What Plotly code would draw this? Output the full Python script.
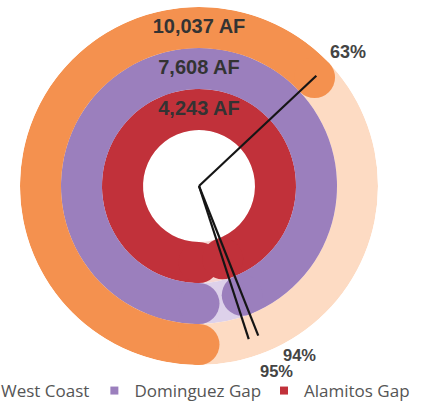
import math
import plotly.graph_objects as go

# ---- data ----
regions = ["Alamitos Gap", "Dominguez Gap", "West Coast"]
volumes_af = [4243, 7608, 10037]
percents = [95, 94, 63]

bar_colors = ["#C1313A", "#9B7FBD", "#F4914F"]
track_colors = ["#F6D6D2", "#DDD1EA", "#FDDBC3"]

# ---- geometry (layout) ----
W, H = 426, 402
MB = 29                    # bottom margin holding the legend
PH = H - MB                # plot-area height
CX, CY = 199, 186          # ring centre in px
R_OUT = 179                # outer radius in px
HOLE = 56 / 179
RMIN = -3 * HOLE / (1 - HOLE)   # radial value at the centre
RING_PX = R_OUT / (3 - RMIN)

fig = go.Figure()

# background tracks
for i, reg in enumerate(regions):
    fig.add_trace(go.Barpolar(
        r=[1], base=[i], theta=[180], width=[360],
        marker=dict(color=track_colors[i], line=dict(width=0)),
        showlegend=False, hoverinfo="skip"))

# value arcs
for i, reg in enumerate(regions):
    span = percents[i] * 3.6
    fig.add_trace(go.Barpolar(
        r=[1], base=[i], theta=[span / 2], width=[span],
        marker=dict(color=bar_colors[i], line=dict(width=0)),
        name=reg, showlegend=False))

# rounded caps
for i, reg in enumerate(regions):
    span = percents[i] * 3.6
    fig.add_trace(go.Scatterpolar(
        r=[i + 0.5, i + 0.5], theta=[0, span], mode="markers",
        marker=dict(size=RING_PX, color=bar_colors[i], line=dict(width=0)),
        showlegend=False, hoverinfo="skip"))

# volume labels at the top of each ring
fig.add_trace(go.Scatterpolar(
    r=[i + 0.5 for i in range(len(regions))], theta=[180] * len(regions),
    mode="text", text=[f"<b>{v:,} AF</b>" for v in volumes_af],
    textfont=dict(family="Liberation Sans", size=20, color="#333333"),
    showlegend=False, hoverinfo="skip"))

# pointer lines from the centre
for i, reg in enumerate(regions):
    span = percents[i] * 3.6
    fig.add_trace(go.Scatterpolar(
        r=[RMIN, 2.56], theta=[0, span], mode="lines",
        line=dict(color="#151515", width=2.2),
        showlegend=False, hoverinfo="skip"))

# legend entries (small squares like the original key)
legend_of = {"West Coast": "legend", "Dominguez Gap": "legend", "Alamitos Gap": "legend2"}
for reg in ["West Coast", "Dominguez Gap", "Alamitos Gap"]:
    i = regions.index(reg)
    fig.add_trace(go.Scatterpolar(
        r=[None], theta=[None], mode="markers", name=reg,
        marker=dict(symbol="square", size=8, color=bar_colors[i]),
        legend=legend_of[reg], hoverinfo="skip"))

# percent labels
label_shift = {"West Coast": 1.2, "Dominguez Gap": -9.2, "Alamitos Gap": -4.8}
label_dist = {"West Coast": 200, "Dominguez Gap": 197, "Alamitos Gap": 201}
label_size = {"West Coast": 18, "Dominguez Gap": 16.5, "Alamitos Gap": 16.5}
for i, reg in enumerate(regions):
    ang = 180 + percents[i] * 3.6 + label_shift[reg]
    d = label_dist[reg]
    xp = CX + d * math.sin(math.radians(ang))
    yp = CY - d * math.cos(math.radians(ang))
    fig.add_annotation(
        x=xp / W, y=(PH - yp) / PH, xref="paper", yref="paper",
        xanchor="center", yanchor="middle",
        text=f"<b>{percents[i]}%</b>", showarrow=False,
        font=dict(family="Liberation Sans", size=label_size[reg], color="#444444"))

legend_font = dict(family="Open Sans", size=17, color="#555555")
fig.update_layout(
    width=W, height=H,
    margin=dict(l=0, r=0, t=0, b=MB, autoexpand=False),
    paper_bgcolor="white",
    polar=dict(
        domain=dict(x=[(CX - R_OUT) / W, (CX + R_OUT) / W],
                    y=[(PH - CY - R_OUT) / PH, (PH - CY + R_OUT) / PH]),
        bgcolor="rgba(0,0,0,0)",
        bargap=0,
        radialaxis=dict(range=[RMIN, 3], visible=False, showgrid=False),
        angularaxis=dict(rotation=-90, direction="clockwise", visible=False,
                         showgrid=False),
    ),
    legend=dict(orientation="h", x=-39 / W, y=0, xanchor="left", yanchor="top",
                font=legend_font, bgcolor="rgba(0,0,0,0)", traceorder="normal"),
    legend2=dict(orientation="h", x=264 / W, y=0, xanchor="left", yanchor="top",
                 font=legend_font, bgcolor="rgba(0,0,0,0)"),
    showlegend=True,
)
fig.update_traces(selector=dict(type="scatterpolar"), cliponaxis=False)

fig.write_html("out.html", config={"displayModeBar": False},
               post_script="document.body.style.margin='0';")
